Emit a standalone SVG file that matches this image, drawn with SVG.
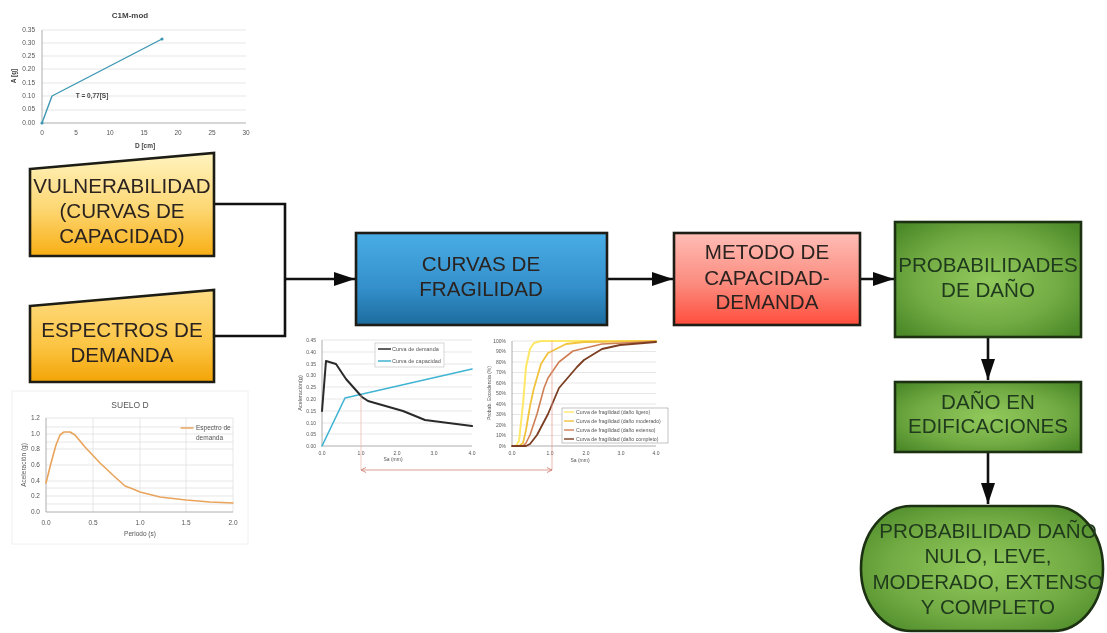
<svg xmlns="http://www.w3.org/2000/svg" width="1107" height="633" viewBox="0 0 1107 633">
<style>
.n{stroke:#1d1d16;stroke-width:2.6}
.t{font-family:"Liberation Sans",Arial,sans-serif;font-size:20.6px;text-anchor:middle;fill:#2a2320}
.g{fill:url(#gG);stroke:#1c3012;stroke-width:2.6}
.gt{fill:#1f3a1c}
.w{stroke:#111;stroke-width:2.6;fill:none}
.c{font-family:"Liberation Sans",Arial,sans-serif;font-size:6.5px;fill:#555;text-anchor:middle}
.l{font-family:"Liberation Sans",Arial,sans-serif;font-size:5.5px;fill:#555;text-anchor:start}
.e{stroke:#ddd;stroke-width:.7;fill:none}
.a{stroke:#999;stroke-width:.8;fill:none}
.p{fill:none;stroke-linejoin:round;stroke-linecap:round}
</style>
<defs>
<marker id="ah" markerUnits="userSpaceOnUse" markerWidth="22" markerHeight="14" refX="21" refY="7" orient="auto"><path d="M0 0L21 7L0 14Z" fill="#0c0c0c"/></marker>
<marker id="dh" markerUnits="userSpaceOnUse" markerWidth="6" markerHeight="6" refX="5" refY="3" orient="auto-start-reverse"><path d="M0 .5L5 3L0 5.5" fill="none" stroke="#c9736a" stroke-width=".8"/></marker>
<linearGradient id="gY1" x1="0" y1="0" x2="0" y2="1"><stop offset="0" stop-color="#fff4c0"/><stop offset=".55" stop-color="#fdd671"/><stop offset="1" stop-color="#f8ae14"/></linearGradient>
<linearGradient id="gY2" x1="0" y1="0" x2="0" y2="1"><stop offset="0" stop-color="#fedd84"/><stop offset=".6" stop-color="#fcc544"/><stop offset="1" stop-color="#f3a406"/></linearGradient>
<linearGradient id="gB" x1="0" y1="0" x2="0" y2="1"><stop offset="0" stop-color="#49ade6"/><stop offset=".6" stop-color="#348fca"/><stop offset="1" stop-color="#1c6c9e"/></linearGradient>
<linearGradient id="gR" x1="0" y1="0" x2="0" y2="1"><stop offset="0" stop-color="#ffbdb6"/><stop offset=".55" stop-color="#fb8b7e"/><stop offset="1" stop-color="#ff4d3c"/></linearGradient>
<radialGradient id="gG" cx=".5" cy=".5" r=".65"><stop offset="0" stop-color="#91c95c"/><stop offset=".6" stop-color="#72ab43"/><stop offset="1" stop-color="#4c8a29"/></radialGradient>
<filter id="soft" x="-5%" y="-5%" width="110%" height="110%"><feGaussianBlur stdDeviation=".45"/></filter>
</defs>
<rect width="1107" height="633" fill="#fff"/>

<g id="chart-capacidad" filter="url(#soft)">
<text x="130" y="18" class="c" style="font-size:8px;font-weight:bold;fill:#444">C1M-mod</text>
<path class="e" d="M42 30H246M42 43H246M42 56H246M42 69H246M42 83H246M42 96H246M42 110H246"/>
<path class="a" d="M42 30V123H246"/>
<g class="c" style="text-anchor:end">
<text x="35" y="32" style="text-anchor:end">0.35</text><text x="35" y="45" style="text-anchor:end">0.30</text><text x="35" y="58" style="text-anchor:end">0.25</text><text x="35" y="71" style="text-anchor:end">0.20</text><text x="35" y="85" style="text-anchor:end">0.15</text><text x="35" y="98" style="text-anchor:end">0.10</text><text x="35" y="111" style="text-anchor:end">0.05</text><text x="35" y="125" style="text-anchor:end">0.00</text>
</g>
<text x="42" y="135" class="c">0</text><text x="76" y="135" class="c">5</text><text x="110" y="135" class="c">10</text><text x="144" y="135" class="c">15</text><text x="178" y="135" class="c">20</text><text x="212" y="135" class="c">25</text><text x="246" y="135" class="c">30</text>
<text x="145" y="148" class="c" style="font-weight:bold;fill:#444">D [cm]</text>
<text transform="translate(16,76) rotate(-90)" class="c" style="font-weight:bold;fill:#444">A [g]</text>
<text x="92" y="98" class="c" style="font-weight:bold;fill:#444">T = 0,77[S]</text>
<path class="p" d="M42 123L52 96L162 39" stroke="#3c97b4" stroke-width="1.4"/>
<circle cx="162" cy="39" r="1.6" fill="#3c97b4"/><circle cx="42" cy="123" r="1.6" fill="#3c97b4"/>
</g>

<g id="chart-espectro" filter="url(#soft)">
<rect x="12" y="391" width="236" height="153" fill="#fff" stroke="#f0f0f0"/>
<text x="130" y="408" class="c" style="font-size:8.5px">SUELO D</text>
<path class="e" d="M46 418H233M46 434H233M46 449H233M46 465H233M46 481H233M46 496H233M46 504H233M46 427H233M46 442H233M46 488H233"/>
<path class="e" d="M93 418V512M140 418V512M186 418V512M233 418V512"/>
<path class="a" d="M46 418V512H233"/>
<text x="40" y="420" class="c" style="text-anchor:end">1.2</text><text x="40" y="436" class="c" style="text-anchor:end">1.0</text><text x="40" y="451" class="c" style="text-anchor:end">0.8</text><text x="40" y="467" class="c" style="text-anchor:end">0.6</text><text x="40" y="483" class="c" style="text-anchor:end">0.4</text><text x="40" y="498" class="c" style="text-anchor:end">0.2</text><text x="40" y="514" class="c" style="text-anchor:end">0.0</text>
<text x="46" y="525" class="c">0.0</text><text x="93" y="525" class="c">0.5</text><text x="140" y="525" class="c">1.0</text><text x="186" y="525" class="c">1.5</text><text x="233" y="525" class="c">2.0</text>
<text x="140" y="536" class="c">Periodo (s)</text>
<text transform="translate(26,465) rotate(-90)" class="c">Aceleración (g)</text>
<path class="p" stroke="#e9a45c" stroke-width="1.6" d="M46 483L51 463L56 445L60 435L64 432L70 432L75 435L85 447L100 463L115 477L125 486L133 489L140 492L160 497L186 500L210 502L233 503"/>
<path class="p" stroke="#e9a45c" stroke-width="1.4" d="M181 428H193"/>
<text x="196" y="430" class="l" style="font-size:6.5px">Espectro de</text><text x="196" y="440" class="l" style="font-size:6.5px">demanda</text>
</g>

<g id="chart-demanda" filter="url(#soft)">
<path class="e" d="M322 340H472M322 352H472M322 364H472M322 375H472M322 387H472M322 399H472M322 411H472M322 423H472M322 434H472"/>
<path class="a" d="M322 340V446H472"/>
<text x="316" y="342" class="c" style="font-size:5px;text-anchor:end">0.45</text><text x="316" y="354" class="c" style="font-size:5px;text-anchor:end">0.40</text><text x="316" y="366" class="c" style="font-size:5px;text-anchor:end">0.35</text><text x="316" y="377" class="c" style="font-size:5px;text-anchor:end">0.30</text><text x="316" y="389" class="c" style="font-size:5px;text-anchor:end">0.25</text><text x="316" y="401" class="c" style="font-size:5px;text-anchor:end">0.20</text><text x="316" y="413" class="c" style="font-size:5px;text-anchor:end">0.15</text><text x="316" y="425" class="c" style="font-size:5px;text-anchor:end">0.10</text><text x="316" y="436" class="c" style="font-size:5px;text-anchor:end">0.05</text><text x="316" y="448" class="c" style="font-size:5px;text-anchor:end">0.00</text>
<text x="322" y="455" class="c" style="font-size:5px">0.0</text><text x="361" y="455" class="c" style="font-size:5px">1.0</text><text x="397" y="455" class="c" style="font-size:5px">2.0</text><text x="434" y="455" class="c" style="font-size:5px">3.0</text><text x="472" y="455" class="c" style="font-size:5px">4.0</text>
<text x="393" y="461" class="c" style="font-size:5px">Sa (mm)</text>
<text transform="translate(302,393) rotate(-90)" class="c" style="font-size:5.5px">Aceleración(g)</text>
<path class="p" stroke="#41b4d2" stroke-width="1.6" d="M322 446L345 398L472 369"/>
<path class="p" stroke="#2a2a2a" stroke-width="2" d="M322 411L326 361L336 364L346 379L362 397L368 401L403 411L425 420L472 426"/>
<path stroke="#e8b9a8" stroke-width=".7" d="M361 395V470"/>
<rect x="375" y="343" width="69" height="24" fill="#fff" stroke="#bbb" stroke-width=".6"/>
<path stroke="#2a2a2a" stroke-width="1.5" d="M378 349H391"/><path stroke="#41b4d2" stroke-width="1.5" d="M378 361H391"/>
<text x="392" y="351" class="l" style="font-size:5.5px">Curva de demanda</text><text x="392" y="363" class="l" style="font-size:5.5px">Curva de capacidad</text>
</g>

<g id="chart-fragilidad" filter="url(#soft)">
<path class="e" d="M512 341H656M512 351.500H656M512 362H656M512 372.500H656M512 383H656M512 393.500H656M512 404H656M512 414.500H656M512 425H656M512 435.500H656"/>
<path class="a" d="M512 341V446H656"/>
<text x="506" y="343" class="c" style="font-size:5px;text-anchor:end">100%</text><text x="506" y="353" class="c" style="font-size:5px;text-anchor:end">90%</text><text x="506" y="364" class="c" style="font-size:5px;text-anchor:end">80%</text><text x="506" y="374" class="c" style="font-size:5px;text-anchor:end">70%</text><text x="506" y="385" class="c" style="font-size:5px;text-anchor:end">60%</text><text x="506" y="395" class="c" style="font-size:5px;text-anchor:end">50%</text><text x="506" y="406" class="c" style="font-size:5px;text-anchor:end">40%</text><text x="506" y="416" class="c" style="font-size:5px;text-anchor:end">30%</text><text x="506" y="427" class="c" style="font-size:5px;text-anchor:end">20%</text><text x="506" y="437" class="c" style="font-size:5px;text-anchor:end">10%</text><text x="506" y="448" class="c" style="font-size:5px;text-anchor:end">0%</text>
<text x="512" y="455" class="c" style="font-size:5px">0.0</text><text x="550" y="455" class="c" style="font-size:5px">1.0</text><text x="586" y="455" class="c" style="font-size:5px">2.0</text><text x="621" y="455" class="c" style="font-size:5px">3.0</text><text x="656" y="455" class="c" style="font-size:5px">4.0</text>
<text x="580" y="462" class="c" style="font-size:5px">Sa (mm)</text>
<text transform="translate(491,393) rotate(-90)" class="c" style="font-size:5px">Probab. Excedencia (%)</text>
<path class="p" stroke="#ffe868" stroke-width="2" d="M512 446L516 446L519 441L523 404L526 367L530 349L534 343L541 341L656 341"/>
<path class="p" stroke="#f2c33e" stroke-width="1.8" d="M519 446L523 443L526 430L530 406L534 388L541 364L548 353L566 344L584 342L656 341"/>
<path class="p" stroke="#cf7f55" stroke-width="1.6" d="M523 446L526 443L530 435L537 414L544 388L548 378L559 362L573 351L602 344L656 341.500"/>
<path class="p" stroke="#7b3e22" stroke-width="1.8" d="M512 446L526 446L530 444L537 435L548 414L559 388L577 367L584 360L602 349L620 345L656 342"/>
<path stroke="#e79a8d" stroke-width=".7" d="M552 341V470"/>
<rect x="562" y="408" width="106" height="35" fill="#fff" stroke="#999" stroke-width=".6"/>
<path stroke="#ffe868" stroke-width="1.4" d="M564 412H574"/><path stroke="#f2c33e" stroke-width="1.4" d="M564 421H574"/><path stroke="#cf7f55" stroke-width="1.4" d="M564 430H574"/><path stroke="#7b3e22" stroke-width="1.4" d="M564 439H574"/>
<text x="576" y="414" class="l" style="font-size:5.2px">Curva de fragilidad (daño ligero)</text>
<text x="576" y="423" class="l" style="font-size:5.2px">Curva de fragilidad (daño moderado)</text>
<text x="576" y="432" class="l" style="font-size:5.2px">Curva de fragilidad (daño extenso)</text>
<text x="576" y="441" class="l" style="font-size:5.2px">Curva de fragilidad (daño completo)</text>
<path stroke="#c9736a" stroke-width=".7" fill="none" marker-start="url(#dh)" marker-end="url(#dh)" d="M361 470H552"/>
</g>

<g id="connectors" class="w">
<path class="w" d="M214 204H285V336H214"/>
<path class="w" d="M285 279H355" marker-end="url(#ah)"/>
<path class="w" d="M607 279H673" marker-end="url(#ah)"/>
<path class="w" d="M860 279H894" marker-end="url(#ah)"/>
<path class="w" d="M988 337V380" marker-end="url(#ah)"/>
<path class="w" d="M988 452V504" marker-end="url(#ah)"/>
</g>

<g id="vulnerabilidad">
<path class="n" fill="url(#gY1)" d="M30 169L214 153V256H30Z"/>
<text class="t" x="122" y="193">VULNERABILIDAD</text><text class="t" x="122" y="218">(CURVAS DE</text><text class="t" x="122" y="243">CAPACIDAD)</text>
</g>
<g id="espectros">
<path class="n" fill="url(#gY2)" d="M30 306L214 290V382H30Z"/>
<text class="t" x="122" y="337">ESPECTROS DE</text><text class="t" x="122" y="362">DEMANDA</text>
</g>
<g id="curvas">
<rect class="n" fill="url(#gB)" x="356" y="233" width="251" height="92"/>
<text class="t" x="481" y="271">CURVAS DE</text><text class="t" x="481" y="296">FRAGILIDAD</text>
</g>
<g id="metodo">
<rect class="n" fill="url(#gR)" x="674" y="233" width="186" height="92"/>
<text class="t" x="767" y="259">METODO DE</text><text class="t" x="767" y="285">CAPACIDAD-</text><text class="t" x="767" y="309">DEMANDA</text>
</g>
<g id="probabilidades">
<rect class="g" x="895" y="222" width="186" height="115"/>
<text class="t gt" x="988" y="272">PROBABILIDADES</text><text class="t gt" x="988" y="297">DE DAÑO</text>
</g>
<g id="dano">
<rect class="g" x="895" y="382" width="186" height="70"/>
<text class="t gt" x="988" y="409">DAÑO EN</text><text class="t gt" x="988" y="433">EDIFICACIONES</text>
</g>
<g id="probabilidad-final">
<rect class="g" x="861" y="506" width="242" height="125" rx="50" ry="62"/>
<text class="t gt" x="988" y="538">PROBABILIDAD DAÑO</text><text class="t gt" x="988" y="563">NULO, LEVE,</text><text class="t gt" x="988" y="589">MODERADO, EXTENSO</text><text class="t gt" x="988" y="614">Y COMPLETO</text>
</g>
</svg>
